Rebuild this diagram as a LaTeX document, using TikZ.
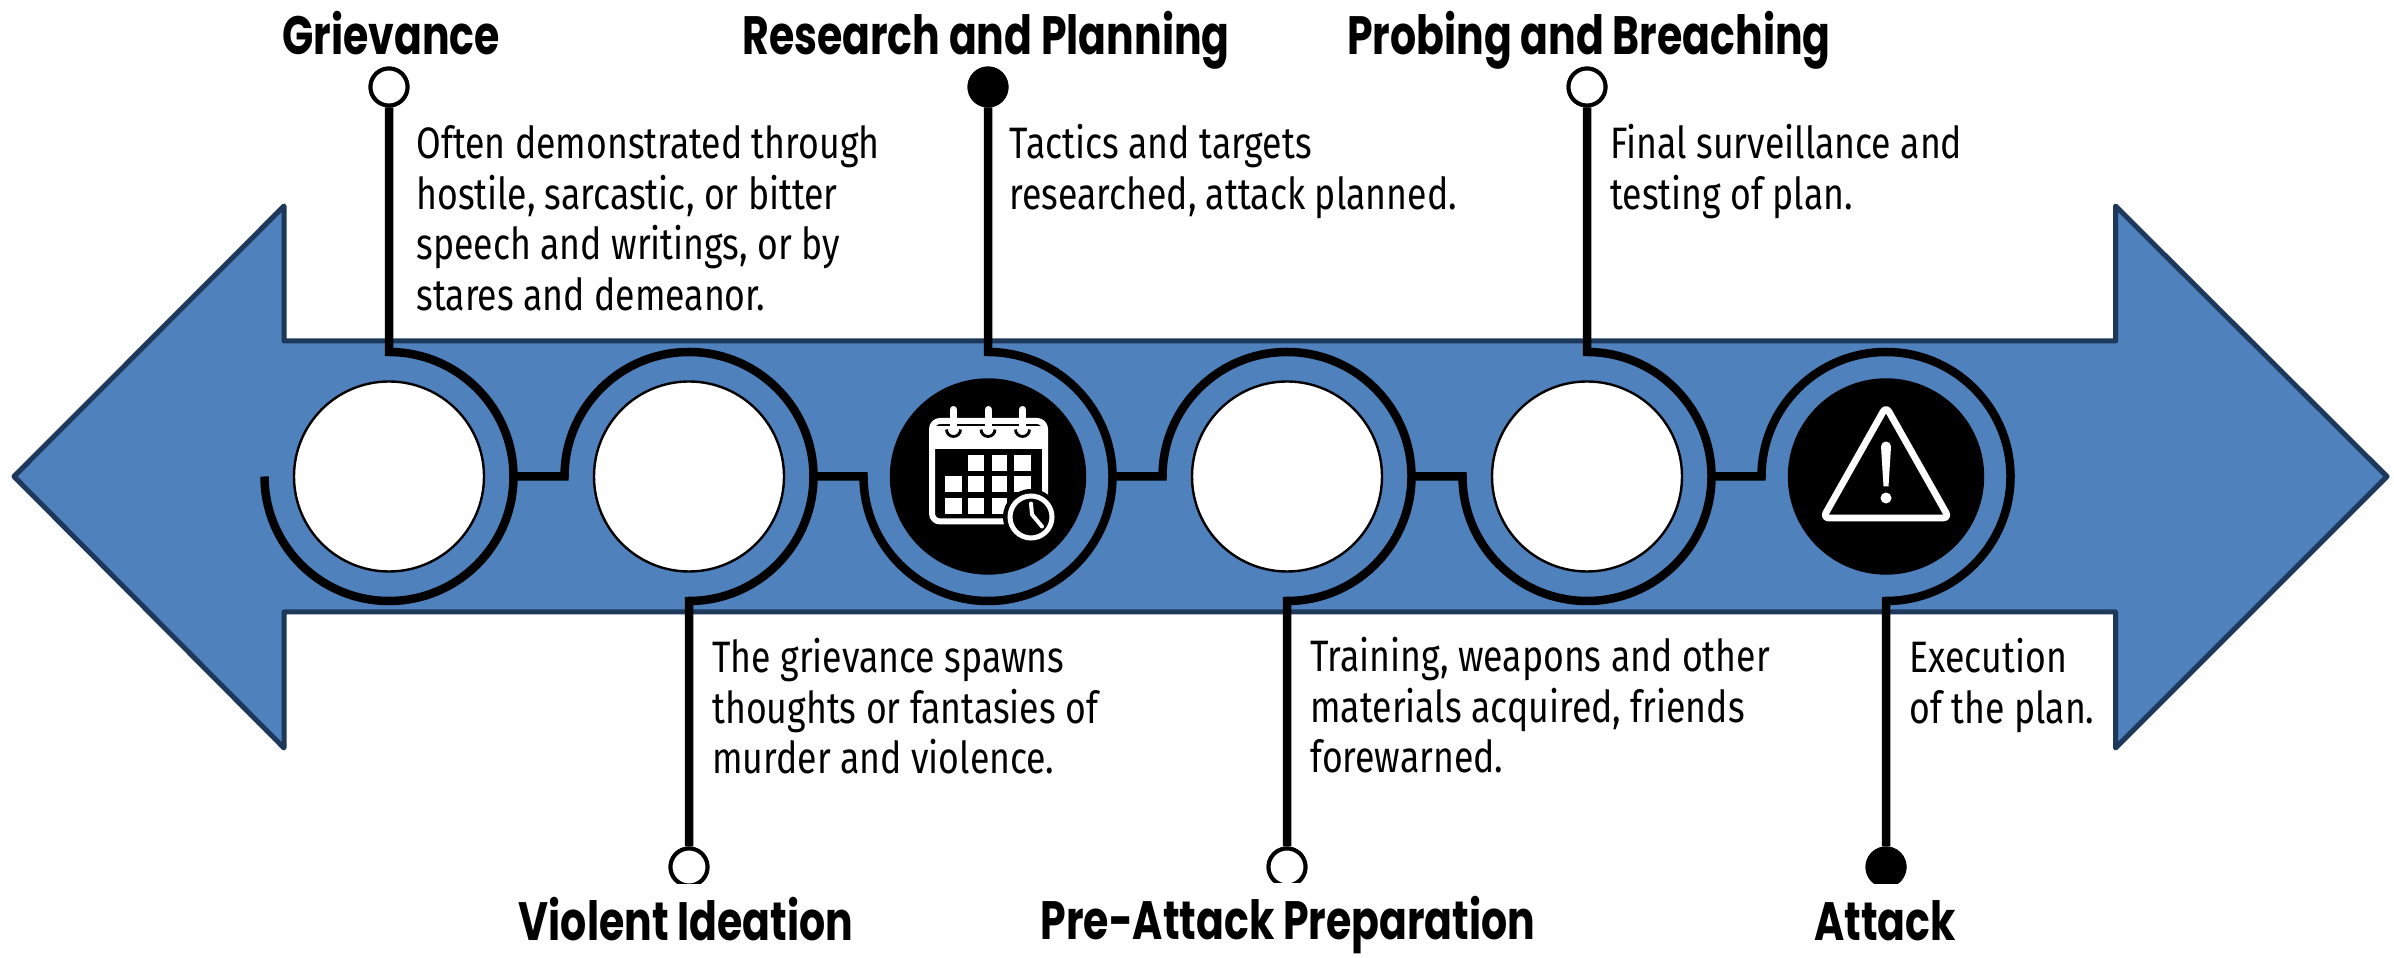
\documentclass[tikz,border=0pt]{standalone}
\usepackage{fontspec}
\usetikzlibrary{calc}
\newfontfamily\titlefont[FakeStretch=0.76]{Poppins}
\newfontfamily\bodyfont[FakeStretch=0.81]{Fira Sans}
\definecolor{arrowfill}{RGB}{79,129,189}
\definecolor{arrowline}{RGB}{30,56,92}
\newcommand{\fl}{\rule{0pt}{20pt}}
\tikzset{
  x=0.5pt,y=0.5pt,
  wire/.style={line width=4.25pt,black,miter limit=10},
  bigarrow/.style={fill=arrowfill,draw=arrowline,line width=2.5pt,line join=round},
  disc/.style={circle,minimum size=95pt,inner sep=0pt,line width=1.2pt,draw=black,fill=white},
  blackdisc/.style={disc,minimum size=97pt,fill=black},
  dotopen/.style={circle,minimum size=18.5pt,inner sep=0pt,line width=2pt,draw=black,fill=white},
  dotsolid/.style={dotopen,fill=black},
  titlebox/.style={anchor=base,inner xsep=2pt,inner ysep=0pt,fill=white,text height=28.5pt,font=\titlefont\bfseries\fontsize{27}{30}\selectfont},
  toptitle/.style={anchor=base,inner xsep=2pt,inner ysep=0pt,font=\titlefont\bfseries\fontsize{27}{30}\selectfont},
  bodytext/.style={anchor=north west,inner sep=0pt,align=left,font=\bodyfont\fontsize{22}{25.35}\selectfont},
  iconw/.style={white,line width=3pt,line join=round},
}
\begin{document}
\begin{tikzpicture}
\useasboundingbox (0,0) rectangle (2394,958);
\fill[white] (0,0) rectangle (2394,958);
% arrow
\path[bigarrow] (14,481.5) -- (284,752) -- (284,617) -- (2115.5,617) -- (2115.5,752) -- (2387,481.5) -- (2115.5,210) -- (2115.5,346) -- (284,346) -- (284,210) -- cycle;
% discs
\node[disc] (c1) at (389,481.5) {};
\node[disc] (c2) at (689,481.5) {};
\node[blackdisc] (c3) at (988,481.5) {};
\node[disc] (c4) at (1287,481.5) {};
\node[disc] (c5) at (1587,481.5) {};
\node[blackdisc] (c6) at (1886,481.5) {};
% end dots
\node[dotopen] (d1) at (389,871) {};
\node[dotopen] (d2) at (689,91) {};
\node[dotsolid] (d3) at (988,871) {};
\node[dotopen] (d4) at (1287,91) {};
\node[dotopen] (d5) at (1587,871) {};
\node[dotsolid] (d6) at (1886,91) {};
% ring anchor points
\foreach \i in {1,...,6}{
  \coordinate (t\i) at ($(c\i)+(0,124.5)$);
  \coordinate (b\i) at ($(c\i)+(0,-124.5)$);
  \coordinate (w\i) at ($(c\i)+(-124.5,0)$);
  \coordinate (e\i) at ($(c\i)+(124.5,0)$);
}
% connectors
\draw[wire] (d1.south) -- (t1) arc[start angle=90,end angle=-180,radius=124.5];
\draw[wire] (e1) -- (w2) arc[start angle=180,end angle=-90,radius=124.5] -- (d2.north);
\draw[wire] (e2) -- (w3) arc[start angle=-180,delta angle=270,radius=124.5] -- (d3.south);
\draw[wire] (e3) -- (w4) arc[start angle=180,end angle=-90,radius=124.5] -- (d4.north);
\draw[wire] (d5.south) -- (t5) arc[start angle=90,end angle=-180,radius=124.5] -- (e4);
\draw[wire] (e5) -- (w6) arc[start angle=180,end angle=-90,radius=124.5] -- (d6.north);
% redraw dots over wires
\node[dotopen] at (d1) {};
\node[dotopen] at (d2) {};
\node[dotsolid] at (d3) {};
\node[dotopen] at (d4) {};
\node[dotopen] at (d5) {};
\node[dotsolid] at (d6) {};
% calendar icon
\begin{scope}[shift={(c3)}]
  \draw[iconw,rounded corners=4pt] (-56,-45) rectangle (57,55.5);
  \fill[white] (-56,27) -- (-56,50) -- (57,50) -- (57,27) -- cycle;
  \foreach \px in {-34.5,0,34.5}{
    \draw[white,line width=3.5pt,line cap=round] (\px,67) -- (\px,44);
    \draw[black,line width=1.4pt] (\px-7,47) arc[start angle=180,end angle=360,radius=7];
  }
  \foreach \xa/\xb/\ya/\yb in {-20/-4/21.5/5.5,4/19/21.5/5.5,26/43/21.5/5.5,
     -43/-26/0.5/-15.5,-20/-4/0.5/-15.5,4/19/0.5/-15.5,26/43/0.5/-15.5,
     -43/-26/-21.5/-37.5,-20/-4/-21.5/-37.5,4/19/-21.5/-37.5}
    \fill[white] (\xa,\ya) rectangle (\xb,\yb);
  \fill[black] (43,-40.5) circle[radius=28];
  \draw[white,line width=2.5pt] (43,-40.5) circle[radius=21];
  \draw[white,line width=2pt,line cap=round,line join=round] (43,-27) -- (44,-38) -- (54,-50);
\end{scope}
% warning icon
\begin{scope}[shift={(c6)}]
  \draw[iconw,line width=3.4pt,rounded corners=3pt] (0,70) -- (63,-41.5) -- (-63,-41.5) -- cycle;
  \fill[white] (-5,30) arc[start angle=180,end angle=0,radius=5] -- (2.5,-10) -- (-2.5,-10) -- cycle;
  \fill[white] (0,-21.5) circle[radius=5.5];
\end{scope}
% titles
\node[toptitle] (g) at (391,903) {Grievance};
\node[toptitle] (r) at (986,903) {Research and Planning};
\node[toptitle] (p) at (1589,903) {Probing and Breaching};
\node[titlebox] (v) at (686,17) {Violent Ideation};
\node[titlebox] (q) at (1288,18) {Pre-Attack Preparation};
\node[titlebox] (a) at (1885,17) {Attack};
% body
\node[bodytext] (t1b) at (416,840) {\fl Often demonstrated through\\hostile, sarcastic, or bitter\\speech and writings, or by\\stares and demeanor.};
\node[bodytext] (t3b) at (1009,840) {\fl Tactics and targets\\researched, attack planned.};
\node[bodytext] (t5b) at (1610,840) {\fl Final surveillance and\\testing of plan.};
\node[bodytext] (t2b) at (712,326) {\fl The grievance spawns\\thoughts or fantasies of\\murder and violence.};
\node[bodytext] (t4b) at (1310,327) {\fl Training, weapons and other\\materials acquired, friends\\forewarned.};
\node[bodytext] (t6b) at (1909,326) {\fl Execution\\of the plan.};
\end{tikzpicture}
\end{document}
